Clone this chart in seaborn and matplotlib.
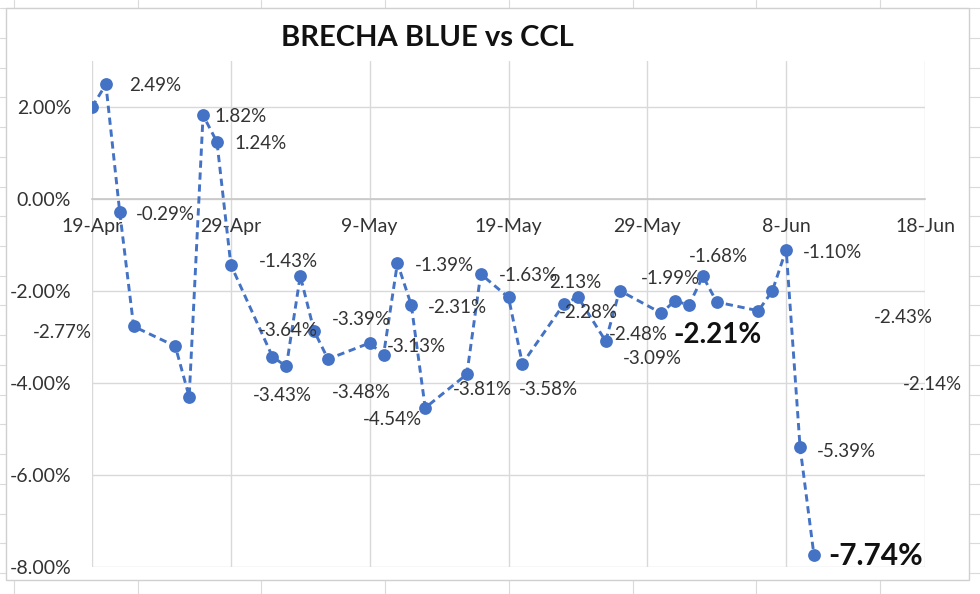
import matplotlib
matplotlib.use("Agg")
import matplotlib.pyplot as plt
import matplotlib.dates as mdates
from matplotlib.patches import Rectangle
from matplotlib.lines import Line2D
import seaborn as sns
import pandas as pd

# ---------------- data ----------------
dates = ["2022-04-19", "2022-04-20", "2022-04-21", "2022-04-22", "2022-04-25",
         "2022-04-26", "2022-04-27", "2022-04-28", "2022-04-29", "2022-05-02",
         "2022-05-03", "2022-05-04", "2022-05-05", "2022-05-06", "2022-05-09",
         "2022-05-10", "2022-05-11", "2022-05-12", "2022-05-13", "2022-05-16",
         "2022-05-17", "2022-05-19", "2022-05-20", "2022-05-23", "2022-05-24",
         "2022-05-26", "2022-05-27", "2022-05-30", "2022-05-31", "2022-06-01",
         "2022-06-02", "2022-06-03", "2022-06-06", "2022-06-07", "2022-06-08",
         "2022-06-09", "2022-06-10"]
brecha = [2.00, 2.49, -0.29, -2.77, -3.20, -4.30, 1.82, 1.24, -1.43, -3.43,
          -3.64, -1.67, -2.87, -3.48, -3.13, -3.39, -1.39, -2.31, -4.54, -3.81,
          -1.63, -2.14, -3.58, -2.28, -2.13, -3.09, -1.99, -2.48, -2.21, -2.31,
          -1.68, -2.24, -2.43, -2.00, -1.10, -5.39, -7.74]

x_tick_labels = ["19-Apr", "29-Apr", "9-May", "19-May", "29-May", "8-Jun", "18-Jun"]
y_ticks = [-8, -6, -4, -2, 0, 2]

# data labels (text as shown in the chart)
label_texts = ["2.49%", "1.82%", "1.24%", "-0.29%", "-2.77%", "-1.43%", "-3.64%",
               "-3.43%", "-3.39%", "-3.13%", "-3.48%", "-4.54%", "-1.39%", "-2.31%",
               "-3.81%", "-3.58%", "-1.63%", "2.13%", "-2.28%", "-2.48%", "-3.09%",
               "-1.99%", "-2.21%", "-1.68%", "-1.10%", "-2.43%", "-2.14%", "-5.39%",
               "-7.74%"]
# label centre positions: days after 19-Apr, and y value (%)
label_day = [4.54, 10.73, 12.17, 5.26, -2.16, 14.12, 14.12, 13.69, 19.38, 23.34,
             19.38, 21.61, 25.35, 26.29, 28.09, 32.85, 31.41, 34.80, 35.73, 39.33,
             40.34, 41.63, 45.02, 45.09, 53.37, 58.42, 60.51, 54.31, 56.47]
label_y = [2.47, 1.79, 1.20, -0.33, -2.90, -1.35, -2.86, -4.28, -2.62, -3.21,
           -4.21, -4.80, -1.44, -2.36, -4.15, -4.15, -1.66, -1.81, -2.47, -2.95,
           -3.47, -1.72, -2.95, -1.24, -1.16, -2.58, -4.04, -5.48, -7.77]
bold_labels = ["-2.21%", "-7.74%"]

# ---------------- style ----------------
sns.set_style("white")
plt.rcParams["font.family"] = ["Lato", "DejaVu Sans"]
TXT = "#333333"
GRID = "#D9D9D9"
BLUE = "#4472C4"

W, H = 980, 594
fig = plt.figure(figsize=(W / 100, H / 100), dpi=100)
fig.patch.set_facecolor("white")

# worksheet grid behind the chart object
for k in range(9):
    xp = 14 + 123.7 * k
    fig.add_artist(Line2D([xp / W, xp / W], [0, 1], color="#DADADA", lw=0.8,
                          transform=fig.transFigure, zorder=0))
for k in range(-1, 20):
    yp = 38 + 29.72 * k
    fig.add_artist(Line2D([0, 1], [1 - yp / H, 1 - yp / H], color="#DADADA", lw=0.8,
                          transform=fig.transFigure, zorder=0))
# chart area
fig.add_artist(Rectangle((6 / W, 1 - 580 / H), (969 - 6) / W, (580 - 8) / H,
                         transform=fig.transFigure, facecolor="white",
                         edgecolor="#D0D0D0", lw=1.0, zorder=1))

ax = fig.add_axes([92 / W, 1 - 567 / H, (925 - 92) / W, (567 - 61) / H])
ax.set_zorder(2)
ax.patch.set_alpha(0)

df = pd.DataFrame({"fecha": pd.to_datetime(dates), "brecha": brecha})
sns.lineplot(data=df, x="fecha", y="brecha", ax=ax, color=BLUE, linewidth=2.1,
             marker="o", markersize=9.2, markeredgewidth=0, markeredgecolor=BLUE,
             zorder=5)
line = ax.lines[0]
line.set_linestyle((0, (2.5, 1.6)))

start = pd.Timestamp("2022-04-19")
end = pd.Timestamp("2022-06-18")
ax.set_xlim(start, end)
ax.set_ylim(-8, 3)
xt = pd.date_range(start, periods=len(x_tick_labels), freq="10D")
ax.set_xticks(xt)
ax.set_xticklabels(x_tick_labels)
ax.set_yticks(y_ticks)
ax.set_yticklabels([f"{v:.2f}%" for v in y_ticks])
ax.set_xlabel("")
ax.set_ylabel("")

ax.grid(True, color=GRID, lw=1.0)
ax.set_axisbelow(True)
for s in ["top", "right", "left"]:
    ax.spines[s].set_visible(False)
ax.spines["bottom"].set_position(("data", 0))
ax.spines["bottom"].set_color("#C8C8C8")
ax.spines["bottom"].set_linewidth(1.2)
ax.tick_params(axis="x", length=0, pad=14, labelsize=14, labelcolor=TXT)
ax.tick_params(axis="y", length=0, pad=15, labelsize=14, labelcolor=TXT)

x0 = mdates.date2num(start)
for t, d, y in zip(label_texts, label_day, label_y):
    if t in bold_labels:
        size = 20 if t == "-2.21%" else 21.5
        ax.text(x0 + d, y, t, ha="center", va="center", fontsize=size,
                fontweight="bold", color="#111111", zorder=6, clip_on=False)
    else:
        ax.text(x0 + d, y, t, ha="center", va="center", fontsize=13.5,
                color=TXT, zorder=6, clip_on=False)

fig.text(427 / W, 1 - 38 / H, "BRECHA BLUE vs CCL", ha="center", va="center",
         fontsize=21, fontweight="bold", color="#111111")

fig.savefig("out.png", dpi=100, facecolor="white")
